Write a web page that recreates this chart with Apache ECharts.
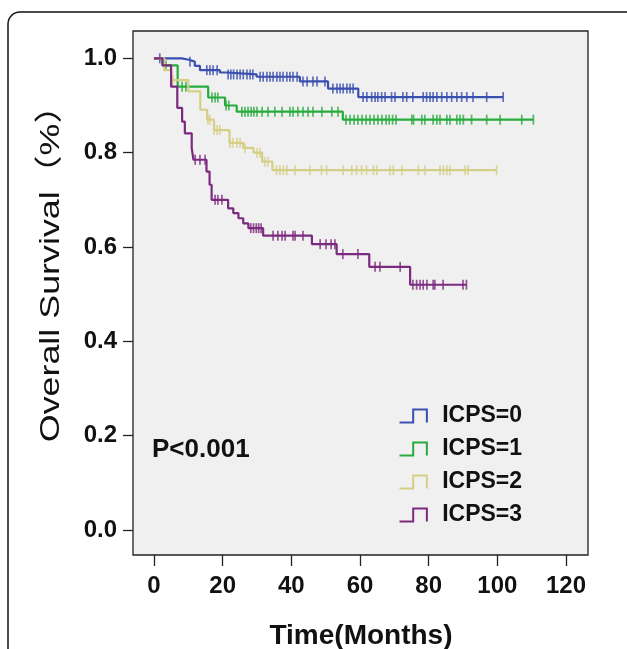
<!DOCTYPE html>
<html>
<head>
<meta charset="utf-8">
<script src="https://cdn.jsdelivr.net/npm/echarts@6/dist/echarts.min.js"></script>
<style>
html,body{margin:0;padding:0;background:#fff;}
#chart{width:627px;height:649px;}
</style>
</head>
<body>
<div id="chart"></div>
<script>
// ---- data ----
const seriesNames = ['ICPS=0', 'ICPS=1', 'ICPS=2', 'ICPS=3'];
const xTicks = [0, 20, 40, 60, 80, 100, 120];
const yTicks = [0, 0.2, 0.4, 0.6, 0.8, 1.0];

const icps0Time = [0, 8.1, 10.2, 11.9, 13.4, 19.2, 21.2, 29.9, 42.5, 50.7, 59.5, 101.7];
const icps0Surv = [1.0, 0.997, 0.993, 0.984, 0.975, 0.970, 0.966, 0.961, 0.951, 0.936, 0.918, 0.918];
const icps0Censor = [1.7, 10.5, 15.4, 16.3, 17.2, 18.4, 21.6, 22.4, 23.2, 24.2, 25.1, 26.0, 27.1, 28.0, 28.8, 30.9, 31.8, 32.9, 33.8, 34.7, 35.8, 36.7, 37.6, 38.7, 39.6, 40.5, 41.7, 43.4, 44.6, 46.3, 47.5, 49.8, 52.1, 53.3, 54.2, 55.1, 56.2, 57.1, 58.0, 60.9, 62.0, 63.4, 64.4, 65.2, 66.3, 67.3, 69.2, 70.2, 72.5, 73.6, 75.4, 78.4, 79.4, 80.4, 81.3, 82.4, 83.8, 85.3, 86.7, 88.2, 89.6, 91.1, 92.9, 96.9, 101.7];

const icps1Time = [0, 2.5, 6.9, 15.8, 20.7, 24.1, 55.0, 110.5];
const icps1Surv = [1.0, 0.985, 0.940, 0.917, 0.900, 0.887, 0.870, 0.870];
const icps1Censor = [3.5, 8.2, 9.3, 16.9, 17.8, 18.6, 21.0, 21.8, 25.6, 26.5, 27.4, 28.3, 29.1, 30.0, 31.5, 33.2, 35.2, 37.3, 39.6, 40.5, 41.9, 43.4, 44.9, 46.3, 48.9, 51.8, 53.6, 55.9, 57.1, 58.3, 59.4, 60.6, 61.8, 62.9, 64.1, 65.2, 66.4, 67.6, 68.5, 69.5, 70.5, 75.1, 75.6, 78.0, 78.9, 81.3, 82.4, 83.3, 85.3, 86.2, 88.2, 89.1, 90.1, 92.5, 96.9, 100.8, 107.1, 110.5];

const icps2Time = [0, 3, 5, 10, 13.5, 15.5, 17.5, 22, 26, 29, 31.5, 34.5, 99.8];
const icps2Surv = [1.0, 0.975, 0.954, 0.930, 0.891, 0.870, 0.848, 0.821, 0.810, 0.800, 0.781, 0.763, 0.763];
const icps2Censor = [5.5, 15.7, 16.3, 17.5, 18.4, 19.2, 22.1, 23.0, 24.2, 25.1, 26.5, 30.0, 30.9, 32.3, 33.2, 35.7, 36.7, 37.7, 38.7, 41.1, 45.4, 48.8, 50.3, 55.1, 57.6, 59.0, 60.5, 61.9, 63.9, 64.9, 68.7, 69.7, 72.2, 77.0, 78.9, 83.3, 84.3, 85.3, 86.2, 90.6, 91.5, 99.8];

const icps3Time = [0, 2.5, 5, 6.8, 8.2, 9, 11, 11.5, 15.3, 16.2, 16.8, 21.6, 23.1, 24.6, 26, 27.5, 31.8, 46, 53.2, 62.7, 74.6, 91];
const icps3Surv = [1.0, 0.985, 0.940, 0.895, 0.866, 0.841, 0.810, 0.785, 0.760, 0.732, 0.700, 0.682, 0.672, 0.661, 0.650, 0.640, 0.624, 0.606, 0.585, 0.558, 0.520, 0.520];
const icps3Censor = [12.0, 13.4, 14.9, 17.8, 18.6, 19.8, 28.2, 29.0, 29.8, 30.5, 31.2, 34.7, 36.1, 37.3, 38.2, 40.5, 41.1, 43.4, 48.4, 50.1, 51.6, 52.7, 55.0, 59.4, 64.4, 65.8, 71.7, 75.4, 76.5, 77.5, 78.4, 79.5, 81.3, 81.8, 84.2, 90.0, 91.0];

const colors = ['#3a4fb0', '#27ab3c', '#d5cf86', '#7c2a80'];

// ---- build ----
const groups = [
  [icps0Time, icps0Surv, icps0Censor],
  [icps1Time, icps1Surv, icps1Censor],
  [icps2Time, icps2Surv, icps2Censor],
  [icps3Time, icps3Surv, icps3Censor]
];
function survAt(times, surv, t) {
  let s = surv[0];
  for (let i = 0; i < times.length; i++) { if (times[i] <= t) s = surv[i]; }
  return s;
}
const series = [];
groups.forEach((g, i) => {
  series.push({
    name: seriesNames[i], type: 'line', step: 'end', showSymbol: false, symbol: 'none',
    data: g[0].map((t, k) => [t, g[1][k]]),
    lineStyle: { color: colors[i], width: 2.2 }, itemStyle: { color: colors[i] },
    z: 2 + i, silent: true, animation: false
  });
});
groups.forEach((g, i) => {
  series.push({
    name: seriesNames[i], type: 'scatter', symbol: 'rect', symbolSize: [1.7, 10],
    data: g[2].map(t => [t, survAt(g[0], g[1], t)]),
    itemStyle: { color: colors[i] }, z: 2 + i, silent: true, animation: false
  });
});

const FONT = "'Liberation Sans', Arial, 'Noto Sans CJK SC', sans-serif";
const chart = echarts.init(document.getElementById('chart'), null, { renderer: 'canvas' });
chart.setOption({
  animation: false,
  grid: { left: 133, right: 39, top: 31, bottom: 94, show: true, backgroundColor: '#f0f0f0', borderColor: '#222', borderWidth: 1.3, containLabel: false },
  xAxis: {
    type: 'value', min: -6.1, max: 126.4,
    axisLine: { show: false, onZero: false },
    axisTick: { show: true, length: 11, customValues: xTicks, lineStyle: { color: '#222', width: 1.3 } },
    axisLabel: { customValues: xTicks, margin: 19, fontFamily: FONT, fontWeight: 'bold', fontSize: 24, color: '#111' },
    splitLine: { show: false }
  },
  yAxis: {
    type: 'value', min: -0.053, max: 1.058,
    axisLine: { show: false, onZero: false },
    axisTick: { show: true, length: 10, customValues: yTicks, lineStyle: { color: '#222', width: 1.3 } },
    axisLabel: { customValues: yTicks, margin: 16, fontFamily: FONT, fontWeight: 'bold', fontSize: 24, color: '#111', formatter: v => v.toFixed(1) },
    splitLine: { show: false }
  },
  legend: {
    orient: 'vertical', left: 392, top: 398, itemWidth: 42, itemHeight: 13, itemGap: 7,
    selectedMode: false,
    textStyle: { fontFamily: FONT, fontWeight: 'bold', fontSize: 23, color: '#111', lineHeight: 26, padding: [0, 0, 0, 3] },
    data: seriesNames.map((n, i) => ({
      name: n, icon: 'path://M0,20L20,20L20,1L40,1L40,20',
      itemStyle: { color: 'none', borderColor: colors[i], borderWidth: 2 }
    }))
  },
  graphic: [
    { type: 'rect', shape: { x: 8, y: 12, width: 660, height: 700, r: 12 }, style: { fill: 'none', stroke: '#111', lineWidth: 1.5 }, silent: true },
    { type: 'text', x: 51, y: 265, rotation: Math.PI / 2, scaleX: 1.28, style: { text: 'Overall Survival（%）', fontFamily: FONT, fontSize: 28, fill: '#111', align: 'center', verticalAlign: 'middle' } },
    { type: 'text', x: 361, y: 636, style: { text: 'Time(Months)', fontFamily: FONT, fontWeight: 'bold', fontSize: 28, fill: '#111', align: 'center', verticalAlign: 'middle' } },
    { type: 'text', x: 152, y: 450, style: { text: 'P<0.001', fontFamily: FONT, fontWeight: 'bold', fontSize: 26, fill: '#111', align: 'left', verticalAlign: 'middle' } }
  ],
  series: series
});
</script>
</body>
</html>
